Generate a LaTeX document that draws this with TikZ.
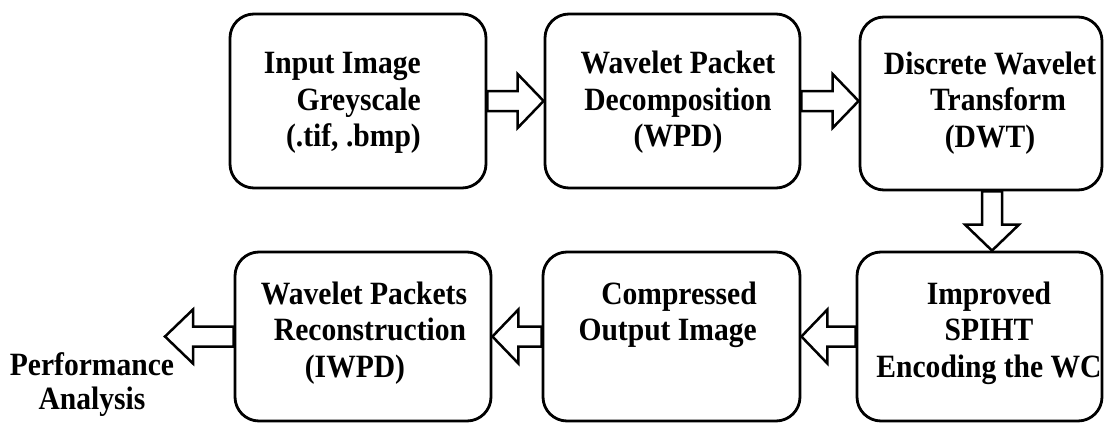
\documentclass[tikz,border=0pt]{standalone}
\usepackage{fontspec}
\setmainfont{Liberation Serif}
\newfontfamily\lblfont[FakeStretch=0.91]{Liberation Serif}
\usetikzlibrary{calc}
\tikzset{
  blk/.style={draw, line width=2.8pt, rounded corners=24pt, inner sep=0pt},
  lbl/.style={inner sep=0pt, anchor=north, align=center,
    font=\fontsize{32.5}{36.5}\selectfont\lblfont\bfseries},
  barrow/.style={draw, fill=white, line width=2.5pt, line join=miter},
}
% horizontal block arrow: start point, tip point, signed head length
\newcommand\hblockarrow[3]{%
  \draw[barrow] ($(#1)+(0,-10)$) -- ($(#2)+(#3,-10)$) -- ($(#2)+(#3,-27)$)
    -- (#2) -- ($(#2)+(#3,27)$) -- ($(#2)+(#3,10)$) -- ($(#1)+(0,10)$) -- cycle;}
% vertical block arrow pointing down: start point, tip point
\newcommand\vblockarrow[2]{%
  \draw[barrow] ($(#1)+(-10,0)$) -- ($(#2)+(-10,-26)$) -- ($(#2)+(-27,-26)$)
    -- (#2) -- ($(#2)+(27,-26)$) -- ($(#2)+(10,-26)$) -- ($(#1)+(10,0)$) -- cycle;}
\begin{document}
\begin{tikzpicture}[x=1pt,y=-1pt]
  \useasboundingbox (0,0) rectangle (1104,423);
  \fill[white] (0,0) rectangle (1104,423);

  % blocks
  \node[blk, minimum width=256pt, minimum height=174pt] (b1) at (358,101) {};
  \node[blk, minimum width=255pt, minimum height=174pt] (b2) at (672.5,101) {};
  \node[blk, minimum width=242pt, minimum height=173pt] (b3) at (981,103.5) {};
  \node[blk, minimum width=256pt, minimum height=169pt] (b4) at (363,336.5) {};
  \node[blk, minimum width=257pt, minimum height=169pt] (b5) at (671.5,336.5) {};
  \node[blk, minimum width=245pt, minimum height=169pt] (b6) at (979.5,336.5) {};

  % block texts
  \node[lbl, anchor=north east, align=right] (t1) at (421,47.95)
    {\strut Input Image\\Greyscale\\(.tif, .bmp)};
  \node[lbl] (t2) at (678,47.95)
    {\strut Wavelet Packet\\Decomposition\\(WPD)};
  \node[lbl] (t3) at (990,48.5)
    {\strut Discrete Wavelet\\\hspace*{16pt}Transform\\(DWT)};
  \node[lbl] (t4) at (364,278.45)
    {\strut Wavelet Packets\\\hspace*{12pt}Reconstruction\\(IWPD)\hspace*{18pt}};
  \node[lbl, anchor=north east, align=right] (t5) at (757,278.45)
    {\strut Compressed\\Output Image};
  \node[lbl] (t6) at (989,278.45)
    {\strut Improved\\SPIHT\\Encoding the WC};
  \node[lbl, font=\fontsize{32.5}{34}\selectfont\lblfont\bfseries] (perf) at (92,351.2)
    {\strut Performance\\Analysis};

  % arrow end points
  \coordinate (a1) at (b1.east -| b2.west);
  \coordinate (a2) at (b2.east -| b3.west);
  \coordinate (dn) at (992,0);
  \coordinate (a3s) at (b3.south -| dn);
  \coordinate (a3) at (b6.north -| dn);
  \coordinate (a4) at (b6.west -| b5.east);
  \coordinate (a5) at (b5.west -| b4.east);
  \coordinate (outx) at (165,0);
  \coordinate (a6) at (b4.west -| outx);

  % block arrows
  \hblockarrow{b1.east}{a1}{-26}
  \hblockarrow{b2.east}{a2}{-26}
  \vblockarrow{a3s}{a3}
  \hblockarrow{b6.west}{a4}{26}
  \hblockarrow{b5.west}{a5}{26}
  \hblockarrow{b4.west}{a6}{28}
\end{tikzpicture}
\end{document}
